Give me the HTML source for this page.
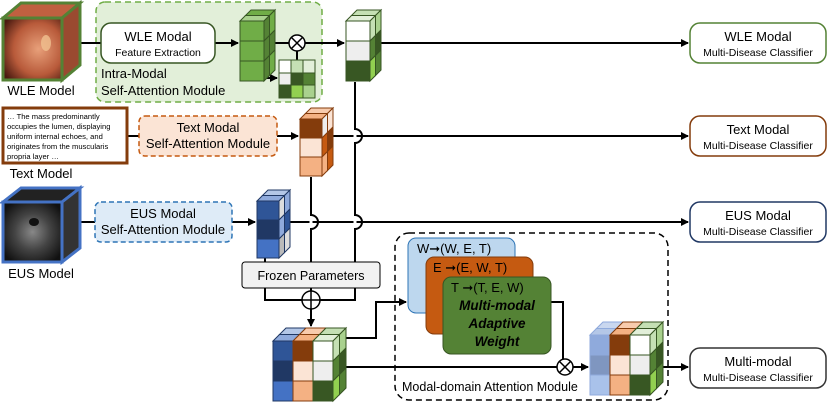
<!DOCTYPE html>
<html><head><meta charset="utf-8"><style>
html,body{margin:0;padding:0;background:#fff;}
svg{display:block;font-family:"Liberation Sans",Arial,sans-serif;}
</style></head><body>
<svg id="s" width="830" height="410" viewBox="0 0 830 410" xmlns="http://www.w3.org/2000/svg">
<defs>
<marker id="a" markerWidth="8" markerHeight="8" refX="7" refY="4" orient="auto" markerUnits="userSpaceOnUse"><path d="M0,0 L8,4 L0,8 z" fill="#000"/></marker>
<radialGradient id="wle" cx="0.6" cy="0.5" r="0.7"><stop offset="0" stop-color="#e8a07a"/><stop offset="0.6" stop-color="#b85a3a"/><stop offset="1" stop-color="#4a1a10"/></radialGradient>
<radialGradient id="eus" cx="0.5" cy="0.5" r="0.6"><stop offset="0" stop-color="#888"/><stop offset="0.5" stop-color="#444"/><stop offset="1" stop-color="#111"/></radialGradient>
</defs>
<!-- green module -->
<rect x="96" y="2" width="226" height="100" rx="9" fill="#e2efd9" stroke="#70ad47" stroke-width="1.5" stroke-dasharray="6,4"/>
<text x="101" y="78" font-size="13">Intra-Modal</text>
<text x="101" y="95" font-size="13">Self-Attention Module</text>
<!-- main lines -->
<g stroke="#000" stroke-width="2" fill="none">
<line x1="80" y1="43" x2="101" y2="43"/>
<line x1="215" y1="43" x2="238" y2="43" marker-end="url(#a)"/>
<line x1="275" y1="43" x2="289" y2="43"/>
<line x1="305" y1="43" x2="344" y2="43" marker-end="url(#a)"/>
<line x1="381" y1="43" x2="688" y2="43" marker-end="url(#a)"/>
<line x1="260" y1="78" x2="277" y2="78" marker-end="url(#a)"/>
<line x1="297" y1="51" x2="297" y2="60"/>
<line x1="127" y1="136" x2="139" y2="136"/>
<line x1="277" y1="136" x2="298" y2="136" marker-end="url(#a)"/>
<line x1="333" y1="136" x2="688" y2="136" marker-end="url(#a)"/>
<line x1="80" y1="222" x2="95" y2="222"/>
<line x1="232" y1="222" x2="255" y2="222" marker-end="url(#a)"/>
<line x1="290" y1="222" x2="688" y2="222" marker-end="url(#a)"/>
<!-- verticals with hops -->
<path d="M355,82 V129 A7,7 0 0 1 355,143 V215 A7,7 0 0 1 355,229 V262"/>
<path d="M311,177 V215 A7,7 0 0 1 311,229 V262"/>
<line x1="265" y1="258" x2="265" y2="262"/>
<path d="M265,288 V300 H355 V288"/>
<line x1="311" y1="288" x2="311" y2="291"/>
<line x1="311" y1="309" x2="311" y2="326" marker-end="url(#a)"/>
<path d="M346,338 H376 V302 H406" marker-end="url(#a)"/>
<line x1="346" y1="367" x2="557" y2="367"/>
<line x1="573" y1="367" x2="588" y2="367" marker-end="url(#a)"/>
<line x1="660" y1="367" x2="688" y2="367" marker-end="url(#a)"/>
<path d="M551,302 H563 V359"/>
</g>
<g stroke="#fff" stroke-width="3"><line x1="355" y1="134" x2="355" y2="138"/><line x1="355" y1="219" x2="355" y2="224"/><line x1="311" y1="219" x2="311" y2="224"/></g>
<!-- WLE image cube -->
<polygon points="3,18 21,3 80,3 62,18" fill="#c06040" stroke="#548235" stroke-width="3"/>
<polygon points="62,18 80,3 80,65 62,80" fill="#9a4a30" stroke="#548235" stroke-width="3"/>
<rect x="3" y="18" width="59" height="62" fill="url(#wle)" stroke="#548235" stroke-width="3"/>
<ellipse cx="46" cy="43" rx="5" ry="8" fill="#f0c090" opacity="0.8"/>
<text x="41" y="95" font-size="13" text-anchor="middle">WLE Model</text>
<rect x="101" y="23" width="114" height="40" rx="10" fill="#fff" stroke="#375623" stroke-width="1.5"/>
<text x="158" y="41" font-size="13" text-anchor="middle">WLE Modal</text>
<text x="158" y="56" font-size="10.5" text-anchor="middle">Feature Extraction</text>
<circle cx="297" cy="43" r="8" fill="#fff" stroke="#000" stroke-width="1.5"/>
<path d="M291.5,37.5 L302.5,48.5 M302.5,37.5 L291.5,48.5" stroke="#000" stroke-width="1.5"/>
<!-- small matrix -->
<g stroke="#375623" stroke-width="1">
<rect x="279" y="60" width="12" height="13" fill="#fff"/><rect x="291" y="60" width="12" height="13" fill="#c5e0b4"/><rect x="303" y="60" width="12" height="13" fill="#e2efd9"/>
<rect x="279" y="73" width="12" height="12" fill="#eee"/><rect x="291" y="73" width="12" height="12" fill="#385723"/><rect x="303" y="73" width="12" height="12" fill="#548235"/>
<rect x="279" y="85" width="12" height="13" fill="#385723"/><rect x="291" y="85" width="12" height="13" fill="#92d050"/><rect x="303" y="85" width="12" height="13" fill="#a9d18e"/>
</g>
<!-- text model -->
<rect x="3" y="108" width="124" height="55" fill="#fff" stroke="#843c0c" stroke-width="3"/>
<g font-size="7.6"><text x="7" y="119">… The mass predominantly</text><text x="7" y="129">occupies the lumen, displaying</text><text x="7" y="139">uniform internal echoes, and</text><text x="7" y="149">originates from the muscularis</text><text x="7" y="159">propria layer …</text></g>
<text x="41" y="178" font-size="13" text-anchor="middle">Text Model</text>
<rect x="139" y="116" width="138" height="40" rx="6" fill="#fbe4d5" stroke="#c55a11" stroke-width="1.5" stroke-dasharray="5,3"/>
<text x="208" y="132" font-size="13" text-anchor="middle">Text Modal</text>
<text x="208" y="148" font-size="13" text-anchor="middle">Self-Attention Module</text>
<!-- EUS -->
<polygon points="3,202 21,188 80,188 62,202" fill="#222" stroke="#4472c4" stroke-width="3"/>
<polygon points="62,202 80,188 80,248 62,262" fill="#333" stroke="#4472c4" stroke-width="3"/>
<rect x="3" y="202" width="59" height="60" fill="url(#eus)" stroke="#4472c4" stroke-width="3"/>
<ellipse cx="34" cy="222" rx="5" ry="4" fill="#111"/>
<text x="41" y="278" font-size="13" text-anchor="middle">EUS Model</text>
<rect x="95" y="202" width="137" height="40" rx="6" fill="#deebf7" stroke="#2e75b6" stroke-width="1.5" stroke-dasharray="5,3"/>
<text x="163" y="218" font-size="13" text-anchor="middle">EUS Modal</text>
<text x="163" y="234" font-size="13" text-anchor="middle">Self-Attention Module</text>
<!-- frozen -->
<rect x="242" y="262" width="138" height="26" rx="3" fill="#f2f2f2" stroke="#000" stroke-width="1"/>
<text x="311" y="280" font-size="12.5" text-anchor="middle">Frozen Parameters</text>
<circle cx="311" cy="300" r="9" fill="#fff" stroke="#000" stroke-width="1.5"/>
<path d="M302,300 H320 M311,291 V309" stroke="#000" stroke-width="1.5"/>
<!-- modal-domain -->
<rect x="395" y="233" width="273" height="167" rx="14" fill="none" stroke="#000" stroke-width="1.5" stroke-dasharray="6,4"/>
<rect x="408" y="238" width="107" height="75" rx="8" fill="#bdd7ee" stroke="#2e75b6" stroke-width="1"/>
<text x="417" y="253" font-size="13">W➞(W, E, T)</text>
<rect x="426" y="257" width="107" height="77" rx="8" fill="#c55a11" stroke="#843c0c" stroke-width="1"/>
<text x="433" y="272" font-size="13">E ➞(E, W, T)</text>
<rect x="443" y="277" width="108" height="77" rx="8" fill="#548235" stroke="#375623" stroke-width="1"/>
<text x="451" y="292" font-size="13">T ➞(T, E, W)</text>
<g font-size="13.5" font-weight="bold" font-style="italic" text-anchor="middle"><text x="497" y="310">Multi-modal</text><text x="497" y="328">Adaptive</text><text x="497" y="346">Weight</text></g>
<circle cx="565" cy="367" r="8" fill="#fff" stroke="#000" stroke-width="1.5"/>
<path d="M559.5,361.5 L570.5,372.5 M570.5,361.5 L559.5,372.5" stroke="#000" stroke-width="1.5"/>
<text x="402" y="391" font-size="12.5">Modal-domain Attention Module</text>
<!-- classifiers -->
<g fill="#fff" stroke-width="1.5">
<rect x="690" y="23" width="136" height="40" rx="10" stroke="#548235"/>
<rect x="690" y="116" width="136" height="40" rx="10" stroke="#843c0c"/>
<rect x="690" y="202" width="136" height="40" rx="10" stroke="#203864"/>
<rect x="690" y="348" width="136" height="40" rx="10" stroke="#333"/>
</g>
<g text-anchor="middle"><text x="758" y="41" font-size="13">WLE Modal</text><text x="758" y="56" font-size="10.5">Multi-Disease Classifier</text>
<text x="758" y="134" font-size="13">Text Modal</text><text x="758" y="149" font-size="10.5">Multi-Disease Classifier</text>
<text x="758" y="220" font-size="13">EUS Modal</text><text x="758" y="235" font-size="10.5">Multi-Disease Classifier</text>
<text x="758" y="366" font-size="13">Multi-modal</text><text x="758" y="381" font-size="10.5">Multi-Disease Classifier</text></g>
<g id="cubes"></g>
</svg>
<script>
function cube(x,y,cw,ch,dd,front,side,top,strokes){
 var cols=front.length,rows=front[0].length,dep=2,s='';
 var fy=y+dep*dd;
 for(var c=0;c<cols;c++){var st=strokes[c];
  for(var k=0;k<dep;k++){ // top
   var x0=x+c*cw+k*dd,y0=fy-k*dd;
   s+='<polygon points="'+x0+','+y0+' '+(x0+dd)+','+(y0-dd)+' '+(x0+dd+cw)+','+(y0-dd)+' '+(x0+cw)+','+y0+'" fill="'+top[c][k]+'" stroke="'+st+'"/>';}
  for(var r=0;r<rows;r++) s+='<rect x="'+(x+c*cw)+'" y="'+(fy+r*ch)+'" width="'+cw+'" height="'+ch+'" fill="'+front[c][r]+'" stroke="'+st+'"/>';
 }
 var st=strokes[cols-1],sx=x+cols*cw;
 for(var k=0;k<dep;k++)for(var r=0;r<rows;r++){var x0=sx+k*dd,y0=fy+r*ch-k*dd;
  s+='<polygon points="'+x0+','+y0+' '+(x0+dd)+','+(y0-dd)+' '+(x0+dd)+','+(y0-dd+ch)+' '+x0+','+(y0+ch)+'" fill="'+side[k][r]+'" stroke="'+st+'"/>';}
 return s;
}
var G=document.getElementById('cubes'),h='';
h+=cube(240,10,24,20,5.5,[['#70ad47','#70ad47','#70ad47']],[['#548235','#548235','#548235'],['#70ad47','#548235','#70ad47']],[['#a9d18e','#70ad47']],['#375623']);
h+=cube(346,10,24,20,5.5,[['#fff','#eee','#385723']],[['#c5e0b4','#548235','#92d050'],['#a9d18e','#385723','#548235']],[['#e2efd9','#c5e0b4']],['#375623']);
h+=cube(300,108,22,19,5.5,[['#843c0c','#fbe4d5','#f4b183']],[['#eee','#c55a11','#f4b183'],['#fbe4d5','#843c0c','#c55a11']],[['#f4b183','#f8cbad']],['#843c0c']);
h+=cube(257,190,22,19,5.5,[['#2f5597','#203864','#4472c4']],[['#ddd','#8faadc','#bbb'],['#8faadc','#2f5597','#ddd']],[['#8faadc','#b4c7e7']],['#203864']);
h+=cube(273,328,20,20,6.5,[['#2f5597','#203864','#4472c4'],['#843c0c','#fbe4d5','#f4b183'],['#fff','#eee','#385723']],[['#c5e0b4','#548235','#92d050'],['#a9d18e','#385723','#548235']],[['#8faadc','#b4c7e7'],['#f4b183','#f8cbad'],['#e2efd9','#c5e0b4']],['#203864','#843c0c','#375623']);
h+=cube(590,322,20,20,6.5,[['#8faadc','#7f96c0','#a9c2ea'],['#843c0c','#fbe4d5','#f4b183'],['#fff','#eee','#385723']],[['#c5e0b4','#548235','#92d050'],['#a9d18e','#385723','#548235']],[['#b4c7e7','#c9d7ef'],['#f4b183','#f8cbad'],['#e2efd9','#c5e0b4']],['#8faadc','#843c0c','#375623']);
G.innerHTML=h;
</script>
</body></html>
